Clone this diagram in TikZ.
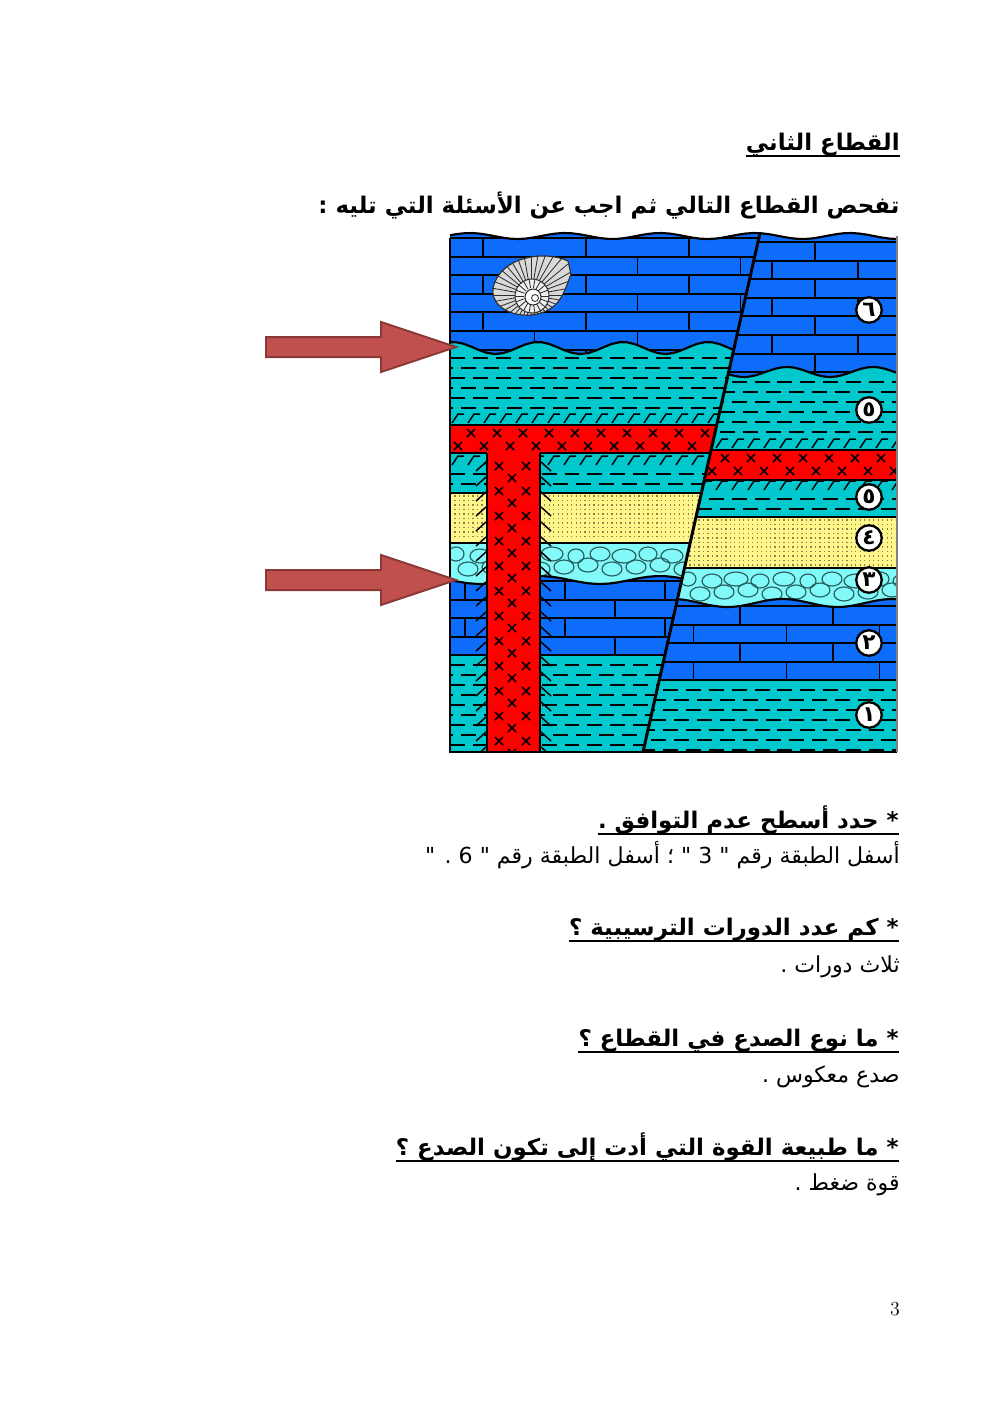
\documentclass[tikz,border=0pt]{standalone}
\usepackage{fontspec}
\usepackage{tikz}
\usetikzlibrary{positioning}
\TeXXeTstate=1
\newfontfamily\arabicfont[Script=Arabic]{DejaVu Sans}
\definecolor{limeBlue}{RGB}{14,108,250}
\definecolor{shaleCyan}{RGB}{0,200,204}
\definecolor{sandYellow}{RGB}{255,246,140}
\definecolor{sandDot}{RGB}{140,130,70}
\definecolor{pebbleCyan}{RGB}{130,250,250}
\definecolor{pebbleDark}{RGB}{40,95,95}
\definecolor{igneousRed}{RGB}{255,0,0}
\definecolor{arrowFill}{RGB}{192,80,77}
\definecolor{arrowLine}{RGB}{140,56,54}
\tikzstyle{page} = [x=.2117mm, y=-.2117mm]
\tikzstyle{bedLine} = [black, line width=1.3pt]
\tikzstyle{brickLine} = [black, line width=1.1pt]
\tikzstyle{dashRow} = [black, line width=1.2pt, dash pattern=on 9pt off 4.8pt]
\tikzstyle{dotRow} = [sandDot, line width=.8pt, dash pattern=on .8pt off 1.9pt]
\tikzstyle{pebbleEdge} = [pebbleDark, line width=.7pt]
\tikzstyle{crossLine} = [black, line width=1pt]
\tikzstyle{tickLine} = [black, line width=.9pt]
\tikzstyle{faultLine} = [black, line width=1.8pt]
\tikzstyle{shellLine} = [gray!35!black, line width=.5pt]
\tikzstyle{arrowStyle} = [fill=arrowFill, draw=arrowLine, line width=1.2pt]
\tikzstyle{layerLabel} = [circle, draw=black, line width=1.4pt, fill=white, inner sep=0pt, minimum size=5.4mm, font=\arabicfont\bfseries\fontsize{13}{13}\selectfont]
\tikzstyle{headText} = [anchor=base east, inner sep=0pt, font=\arabicfont\bfseries\fontsize{13.8}{17}\selectfont]
\tikzstyle{answerText} = [anchor=base east, inner sep=0pt, font=\arabicfont\fontsize{13.3}{16}\selectfont]
\tikzstyle{underLine} = [black, line width=1.3pt]
\newcommand{\topWave}{236-3*cos(360/95*(\x-470))}
\newcommand{\leftUncA}{348-6*cos(360/85*(\x-453))}
\newcommand{\leftUncB}{580+4*sin(360/120*(\x-450))}
\newcommand{\rightUncA}{372-5*cos(360/86*(\x-787))}
\newcommand{\rightUncB}{603+4*sin(360/110*(\x-700))}
\newcommand{\bricks}[4]{
  \foreach \row in {0,...,#3} {
    \pgfmathsetmacro{\yy}{#2 + \row*18.6}
    \pgfmathsetmacro{\shift}{mod(\row,2)*#4/2}
    \draw[brickLine] (#1,\yy) -- +(560,0);
    \foreach \k in {0,...,6} {
      \draw[brickLine] ({#1+\shift+\k*#4},\yy) -- +(0,18.6);
    }
  }
}
\newcommand{\shaleRows}[3]{
  \foreach \row in {0,...,#3} {
    \pgfmathsetmacro{\yy}{#2 + \row*10}
    \pgfmathsetmacro{\phase}{mod(\row,2)*6.9}
    \draw[dashRow, dash phase=\phase pt] (#1,\yy) -- +(460,0);
  }
}
\newcommand{\sandDots}[3]{
  \foreach \row in {0,...,#3} {
    \pgfmathsetmacro{\yy}{#2 + \row*4.5}
    \draw[dotRow] (#1,\yy) -- +(460,0);
  }
}
\newcommand{\pebbles}[3]{
  \foreach \i in {0,...,#3} {
    \pgfmathsetmacro{\cx}{#1+\i*24}
    \pgfmathsetmacro{\rx}{8+mod(\i*7,5)}
    \pgfmathsetmacro{\ry}{7+mod(\i*3,3)}
    \draw[pebbleEdge] (\cx,{#2+11+mod(\i,2)*2}) ellipse [x radius=\rx, y radius=\ry];
    \draw[pebbleEdge] ({\cx+12},{#2+26-mod(\i,3)*2}) ellipse [x radius=\ry+3, y radius=\ry];
  }
}
\newcommand{\crossMark}[2]{\draw[crossLine] (#1-4,#2-4) -- (#1+4,#2+4) (#1-4,#2+4) -- (#1+4,#2-4);}
\newcommand{\sillCrosses}[3]{
  \foreach \i in {0,...,#3} {
    \crossMark{#1+13+\i*26}{#2}
    \crossMark{#1+\i*26}{#2+13}
  }
}
\newcommand{\bakedTicks}[3]{
  \foreach \i in {0,...,#3} {
    \draw[tickLine] ({#1+\i*16},#2+10) -- ++(6,-9) -- ++(6,0);
  }
}
\newcommand{\dikeTicks}[3]{
  \foreach \i in {0,...,19} {
    \draw[tickLine] (#1,#3+\i*15) -- ++(#2*10,9);
  }
}
\newcommand{\blockArrow}[1]{\filldraw[arrowStyle] (266,#1-10) -- (381,#1-10) -- (381,#1-25) -- (456,#1) -- (381,#1+25) -- (381,#1+10) -- (266,#1+10) -- cycle;}
\newcommand{\underRule}[1]{\draw[underLine] ([yshift=-1.3mm]#1.base west) -- ([yshift=-1.3mm]#1.base east);}
\newcommand{\shellPath}{(568,261) .. controls (545,250) and (500,256) .. (493,288) .. controls (489,315) and (538,326) .. (558,302) .. controls (564,294) and (567,285) .. (571,274) -- cycle}

\begin{document}
\begin{tikzpicture}[page]
  \useasboundingbox (0,0) rectangle (992,1403);
  \coordinate (faultTop) at (760,233);
  \coordinate (faultFoot) at (643,752);

  % heading
  \node[headText] (title) at (900,150) {\beginR القطاع الثاني\endR};
  \underRule{title}
  \node[headText] (intro) at (900,213) {\beginR تفحص القطاع التالي ثم اجب عن الأسئلة التي تليه :\endR};

  % the section
  \begin{scope}
    \clip plot[domain=450:897,samples=60] (\x,{\topWave}) -- (897,752) -- (450,752) -- cycle;
    % left block
    \begin{scope}
      \clip (450,220) -- (760,220) -- (faultTop) -- (faultFoot) -- (450,752) -- cycle;
      \fill[shaleCyan] (440,650) rectangle (900,760);
      \shaleRows{450}{665}{8}
      \fill[limeBlue] (440,560) rectangle (900,655);
      \bricks{365}{581}{3}{100}
      \begin{scope}
        \clip (440,543) -- plot[domain=440:900,samples=50] (\x,{\leftUncB}) -- (900,543) -- cycle;
        \fill[pebbleCyan] (440,540) rectangle (900,600);
        \pebbles{456}{543}{10}
      \end{scope}
      \fill[sandYellow] (440,493) rectangle (900,543);
      \sandDots{450}{496}{9}
      \fill[shaleCyan] (440,453) rectangle (900,493);
      \bakedTicks{452}{455}{17}
      \shaleRows{450}{474}{1}
      \fill[igneousRed] (440,425) rectangle (900,453);
      \sillCrosses{458}{433}{10}
      \fill[shaleCyan] (440,330) rectangle (900,425);
      \shaleRows{450}{358}{5}
      \bakedTicks{452}{413}{17}
      \begin{scope}
        \clip (440,220) -- plot[domain=440:900,samples=60] (\x,{\leftUncA}) -- (900,220) -- cycle;
        \fill[limeBlue] (440,220) rectangle (900,365);
        \bricks{380}{238}{6}{103}
      \end{scope}
      \draw[bedLine] plot[domain=440:900,samples=60] (\x,{\leftUncA});
      \draw[bedLine] plot[domain=440:900,samples=50] (\x,{\leftUncB});
      \draw[bedLine] (440,425) -- (900,425) (440,493) -- (900,493) (440,543) -- (900,543) (440,655) -- (900,655);
      \draw[bedLine] (440,453) -- (487,453) (540,453) -- (900,453);
      % dike
      \fill[igneousRed] (487,453) rectangle (540,760);
      \foreach \i in {0,...,11} {
        \crossMark{499}{466+\i*25}
        \crossMark{526}{466+\i*25}
        \crossMark{512}{478+\i*25}
      }
      \draw[bedLine] (487,453) -- (487,760) (540,453) -- (540,760);
      \dikeTicks{486}{-1}{462}
      \dikeTicks{541}{1}{462}
      % fossil
      \filldraw[fill=gray!30, draw=gray!35!black, line width=.7pt] \shellPath;
      \begin{scope}
        \clip \shellPath;
        \foreach \a in {0,10,...,350} \draw[shellLine] (531,295) -- +(\a:48);
      \end{scope}
      \filldraw[fill=gray!12, draw=gray!35!black, line width=.6pt] (532,296) circle (17);
      \foreach \a in {0,20,...,340} \draw[shellLine] (532,296) ++(\a:8) -- +(\a:9);
      \filldraw[fill=white, draw=gray!35!black, line width=.6pt] (533,297) circle (8);
      \draw[shellLine] (535,298) circle (3.5);
    \end{scope}
    % right block
    \begin{scope}
      \clip (faultTop) -- (760,220) -- (900,220) -- (900,752) -- (faultFoot) -- cycle;
      \fill[shaleCyan] (640,675) rectangle (900,760);
      \shaleRows{640}{690}{6}
      \fill[limeBlue] (640,585) rectangle (900,680);
      \bricks{647}{606}{3}{93}
      \begin{scope}
        \clip (640,568) -- plot[domain=640:900,samples=50] (\x,{\rightUncB}) -- (900,568) -- cycle;
        \fill[pebbleCyan] (640,565) rectangle (900,620);
        \pebbles{688}{568}{9}
      \end{scope}
      \fill[sandYellow] (640,517) rectangle (900,568);
      \sandDots{640}{520}{10}
      \fill[shaleCyan] (640,480) rectangle (900,517);
      \bakedTicks{700}{480}{13}
      \shaleRows{640}{499}{1}
      \fill[igneousRed] (640,450) rectangle (900,480);
      \sillCrosses{712}{458}{8}
      \fill[shaleCyan] (640,355) rectangle (900,450);
      \shaleRows{640}{382}{5}
      \bakedTicks{716}{438}{13}
      \begin{scope}
        \clip (640,220) -- plot[domain=640:900,samples=50] (\x,{\rightUncA}) -- (900,220) -- cycle;
        \fill[limeBlue] (640,220) rectangle (900,385);
        \bricks{729}{242}{7}{86}
      \end{scope}
      \draw[bedLine] plot[domain=640:900,samples=50] (\x,{\rightUncA});
      \draw[bedLine] plot[domain=640:900,samples=50] (\x,{\rightUncB});
      \draw[bedLine] (640,450) -- (900,450) (640,480) -- (900,480) (640,517) -- (900,517) (640,568) -- (900,568) (640,680) -- (900,680);
    \end{scope}
  \end{scope}
  \draw[bedLine] plot[domain=450:897,samples=60] (\x,{\topWave});
  \draw[black, line width=1pt] (450,238) -- (450,752) -- (897,752);
  \draw[gray, line width=1pt] (897,752) -- (897,236);
  \draw[faultLine] (faultTop) -- (faultFoot);

  % layer numbers
  \node[layerLabel] (lab6) at (869,310) {٦};
  \node[layerLabel] (lab5a) at (869,410) {٥};
  \node[layerLabel] (lab5b) at (869,497) {٥};
  \node[layerLabel] (lab4) at (869,538) {٤};
  \node[layerLabel] (lab3) at (869,580) {٣};
  \node[layerLabel] (lab2) at (869,643) {٢};
  \node[layerLabel] (lab1) at (869,715) {١};

  % arrows at the unconformities
  \blockArrow{347}
  \blockArrow{580}

  % questions
  \node[headText] (q1) at (899,828) {\beginR * حدد أسطح عدم التوافق .\endR};
  \underRule{q1}
  \node[answerText] (a1) at (900,863) {\beginR أسفل الطبقة رقم " 3 " ؛ أسفل الطبقة رقم " 6 . "\endR};
  \node[headText] (q2) at (899,935) {\beginR * كم عدد الدورات الترسيبية ؟\endR};
  \underRule{q2}
  \node[answerText] (a2) at (900,972) {\beginR ثلاث دورات .\endR};
  \node[headText] (q3) at (899,1046) {\beginR * ما نوع الصدع في القطاع ؟\endR};
  \underRule{q3}
  \node[answerText] (a3) at (900,1082) {\beginR صدع معكوس .\endR};
  \node[headText] (q4) at (899,1155) {\beginR * ما طبيعة القوة التي أدت إلى تكون الصدع ؟\endR};
  \underRule{q4}
  \node[answerText] (a4) at (900,1190) {\beginR قوة ضغط .\endR};

  \node[anchor=base, inner sep=0pt, font=\fontsize{12}{14}\selectfont] (pageNo) at (895,1315) {3};
\end{tikzpicture}
\end{document}
